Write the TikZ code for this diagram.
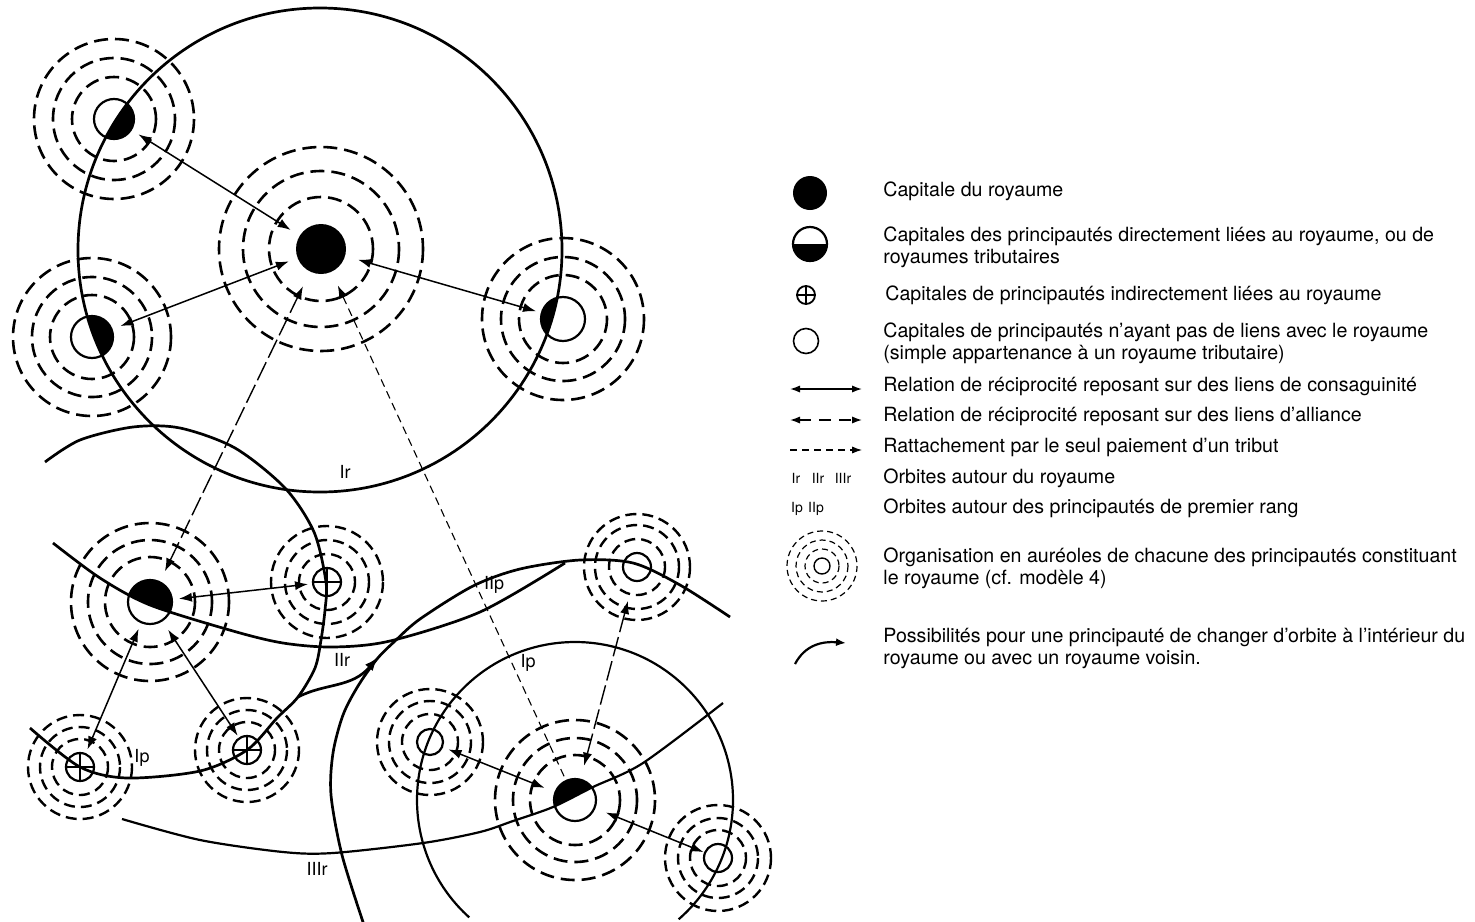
\documentclass[tikz,border=0pt]{standalone}
\usepackage{fontspec}
\setmainfont{TeX Gyre Heros}
\usetikzlibrary{arrows.meta}
\begin{document}
\begin{tikzpicture}[x=0.5pt,y=-0.5pt,
  >={Latex[length=6.5pt,width=4.6pt]},
  orbit/.style={line width=1.35pt},
  thinorbit/.style={line width=1.1pt},
  ring/.style={line width=1.3pt, dash pattern=on 7pt off 3.5pt},
  sring/.style={line width=1.2pt, dash pattern=on 5.5pt off 3pt},
  capnode/.style={circle, draw, line width=1.1pt, inner sep=0pt},
  cons/.style={<->, line width=0.75pt},
  allia/.style={<->, line width=0.7pt, dash pattern=on 10pt off 2.5pt},
  trib/.style={->, line width=0.55pt, dash pattern=on 4pt off 2.5pt},
  plusbar/.style={line width=1pt},
  olab/.style={font=\fontsize{9}{10}\selectfont, inner sep=0pt},
  slab/.style={font=\fontsize{7}{8}\selectfont, inner sep=0pt},
  legtext/.style={anchor=west, font=\fontsize{9.8}{11}\selectfont, align=left, inner sep=0pt},
  legring/.style={line width=0.6pt, dash pattern=on 3pt off 2pt}
]
\useasboundingbox (0,0) rectangle (1475,921);
\clip (0,0) rectangle (1475,921);

% ---------- capitals (nodes) ----------
\node[circle, fill=black, inner sep=0pt, minimum size=25pt] (C) at (321,249) {};
\node[capnode, minimum size=20pt] (UL) at (114,119) {};
\node[capnode, minimum size=21pt] (L)  at (92,337) {};
\node[capnode, minimum size=22pt] (R)  at (563,319) {};
\node[capnode, minimum size=22pt] (LL) at (150,602) {};
\node[capnode, minimum size=14pt] (P1) at (327,582) {};
\node[capnode, minimum size=14pt] (P2) at (80,767) {};
\node[capnode, minimum size=14pt] (P3) at (247,750) {};
\node[capnode, minimum size=21pt] (BR) at (575,800) {};
\node[capnode, minimum size=14pt] (O1) at (637,567) {};
\node[capnode, minimum size=13pt] (O2) at (430,742) {};
\node[capnode, minimum size=14pt] (O3) at (718,858) {};

% plus signs
\foreach \p in {P1,P2,P3}
  \draw[plusbar] (\p.north) -- (\p.south) (\p.west) -- (\p.east);

% ---------- aureoles ----------
\foreach \r in {52,78,102} \draw[ring] (C.center) circle (\r);
\foreach \r in {42,61,80} \draw[ring] (UL.center) circle (\r);
\foreach \r in {42,60,79} \draw[ring] (L.center) circle (\r);
\foreach \r in {44,62,81} \draw[ring] (R.center) circle (\r);
\foreach \r in {45,62,79} \draw[ring] (LL.center) circle (\r);
\foreach \r in {45,62,80} \draw[ring] (BR.center) circle (\r);
\foreach \r in {28,42,56} \draw[sring] (P1.center) circle (\r);
\foreach \r in {28,40,52} \draw[sring] (P2.center) circle (\r);
\foreach \r in {28,40,52} \draw[sring] (P3.center) circle (\r);
\foreach \r in {28,42,53} \draw[sring] (O1.center) circle (\r);
\foreach \r in {28,41,53} \draw[sring] (O2.center) circle (\r);
\foreach \r in {28,40,53} \draw[sring] (O3.center) circle (\r);

% ---------- half-black capitals ----------
\begin{scope}
  \clip (320,250) circle (242);
  \fill (UL.center) circle (20);
  \fill (L.center) circle (21);
  \fill (R.center) circle (22);
\end{scope}
\begin{scope}
  \clip plot[smooth] coordinates {(53,543) (100,578) (150,605) (233,631) (283,643) (333,647) (390,641) (480,612) (565,563)} -- (565,450) -- (53,450) -- cycle;
  \fill (LL.center) circle (22);
\end{scope}
\begin{scope}
  \clip plot[smooth] coordinates {(122,819) (200,840) (283,852) (333,853) (423,843) (480,832) (513,821) (553,807) (593,787) (643,763) (723,703)} -- (723,650) -- (122,650) -- cycle;
  \fill (BR.center) circle (21);
\end{scope}

% ---------- orbits ----------
\draw[orbit] (320,250) circle (242);
\draw[orbit] plot[smooth] coordinates {(53,543) (100,578) (150,605) (233,631) (283,643) (333,647) (390,641) (480,612) (565,563)};
\draw[orbit] plot[smooth] coordinates {(30,728) (80,767) (127,778) (200,771) (247,750) (277,718) (298,697) (315,668) (321,640) (325,610) (326,582) (314,532) (285,488) (235,448) (180,428) (133,427) (80,440) (45,462)};
\draw[orbit] plot[smooth] coordinates {(364,925) (342,855) (331,795) (333,753) (343,715) (358,686) (377,659) (395,641) (420,619) (473,586) (520,569) (580,560) (633,563) (680,585) (730,617)};
\draw[thinorbit] (575,800) ++(132:158) arc[start angle=132, end angle=409, radius=158];
\draw[thinorbit] plot[smooth] coordinates {(122,819) (200,840) (283,852) (333,853) (423,843) (480,832) (513,821) (553,807) (593,787) (643,763) (723,703)};

% orbit change arrow
\coordinate (J) at (298,697);
\coordinate (Jt) at (378,657);
\draw[orbit, -{Latex[length=7pt,width=5pt]}] (J) .. controls (325,683) and (352,688) .. (Jt);

% orbit labels
\node[olab] (lIr) at (345,472) {Ir};
\node[olab] (lIIr) at (342,660) {IIr};
\node[olab] (lIIIr) at (317,869) {IIIr};
\node[olab] (lIIp) at (494,585) {IIp};
\node[olab] (lIpa) at (528,663) {Ip};
\node[olab] (lIpb) at (142,758) {Ip};

% ---------- relations ----------
\draw[cons, shorten <=3.9pt, shorten >=5.2pt] (UL) -- (C);
\draw[cons, shorten <=4.2pt, shorten >=4.5pt] (L) -- (C);
\draw[cons, shorten <=2.5pt, shorten >=6.6pt] (R) -- (C);
\draw[allia, shorten <=5.5pt, shorten >=8pt] (LL) -- (C);
\draw[trib, shorten <=2pt, shorten >=7.4pt] (BR) -- (C);
\draw[cons, shorten <=3pt, shorten >=2pt] (LL) -- (P1);
\draw[cons, shorten <=3pt, shorten >=2pt] (LL) -- (P2);
\draw[cons, shorten <=5pt, shorten >=1pt] (LL) -- (P3);
\draw[cons, shorten <=5.3pt, shorten >=2.9pt] (BR) -- (O2);
\draw[cons, shorten <=5.6pt, shorten >=0.3pt] (BR) -- (O3);
\draw[allia, shorten <=10pt, shorten >=6.7pt] (O1) -- (BR);

% ---------- legend ----------
\node[circle, fill=black, inner sep=0pt, minimum size=17pt] (Lk) at (810,193) {};
\node[capnode, minimum size=17pt] (Lh) at (810,244) {};
\fill (Lh.center) ++(-17,0) arc[start angle=180, end angle=0, radius=17] -- cycle;
\node[circle, draw, line width=0.9pt, inner sep=0pt, minimum size=9pt] (Lp) at (806,295) {};
\draw[line width=0.8pt] (Lp.north) -- (Lp.south) (Lp.west) -- (Lp.east);
\node[circle, draw, line width=0.8pt, inner sep=0pt, minimum size=12.5pt] (Lo) at (806,341) {};

\coordinate (la1) at (790,389); \coordinate (lb1) at (862,389);
\coordinate (la2) at (790,420); \coordinate (lb2) at (862,420);
\coordinate (la3) at (790,450); \coordinate (lb3) at (862,450);
\draw[line width=0.7pt, {Latex[length=5pt,width=3.6pt]}-{Latex[length=5pt,width=3.6pt]}] (la1) -- (lb1);
\draw[line width=0.7pt, dash pattern=on 6pt off 4pt, {Latex[length=5pt,width=3.6pt]}-{Latex[length=5pt,width=3.6pt]}] (la2) -- (lb2);
\draw[line width=0.55pt, dash pattern=on 3.5pt off 2.5pt, -{Latex[length=5pt,width=3.6pt]}] (la3) -- (lb3);

\node[slab] (sIr) at (796,478) {Ir};
\node[slab] (sIIr) at (818,478) {IIr};
\node[slab] (sIIIr) at (843,478) {IIIr};
\node[slab] (sIp) at (797,509) {Ip};
\node[slab] (sIIp) at (816,509) {IIp};

\node[circle, draw, line width=0.7pt, inner sep=0pt, minimum size=8pt] (La) at (822,566) {};
\foreach \r in {17,26,35} \draw[legring] (La.center) circle (\r);

\coordinate (lc1) at (795,664); \coordinate (lc2) at (846,643);
\draw[line width=1.1pt, -{Latex[length=5pt,width=4pt]}] (lc1) .. controls (805,645) and (822,641) .. (lc2);

\node[legtext] (t1) at (883,191) {Capitale du royaume};
\node[legtext] (t2) at (883,247) {Capitales des principautés directement liées au royaume, ou de\\royaumes tributaires};
\node[legtext] (t3) at (885,295) {Capitales de principautés indirectement liées au royaume};
\node[legtext] (t4) at (883,343) {Capitales de principautés n'ayant pas de liens avec le royaume\\(simple appartenance à un royaume tributaire)};
\node[legtext] (t5) at (883,386) {Relation de réciprocité reposant sur des liens de consaguinité};
\node[legtext] (t6) at (883,416) {Relation de réciprocité reposant sur des liens d'alliance};
\node[legtext] (t7) at (883,447) {Rattachement par le seul paiement d'un tribut};
\node[legtext] (t8) at (883,478) {Orbites autour du royaume};
\node[legtext] (t9) at (883,508) {Orbites autour des principautés de premier rang};
\node[legtext] (t10) at (883,568) {Organisation en auréoles de chacune des principautés constituant\\le royaume (cf. modèle 4)};
\node[legtext] (t11) at (883,648) {Possibilités pour une principauté de changer d'orbite à l'intérieur du\\royaume ou avec un royaume voisin.};
\end{tikzpicture}
\end{document}
